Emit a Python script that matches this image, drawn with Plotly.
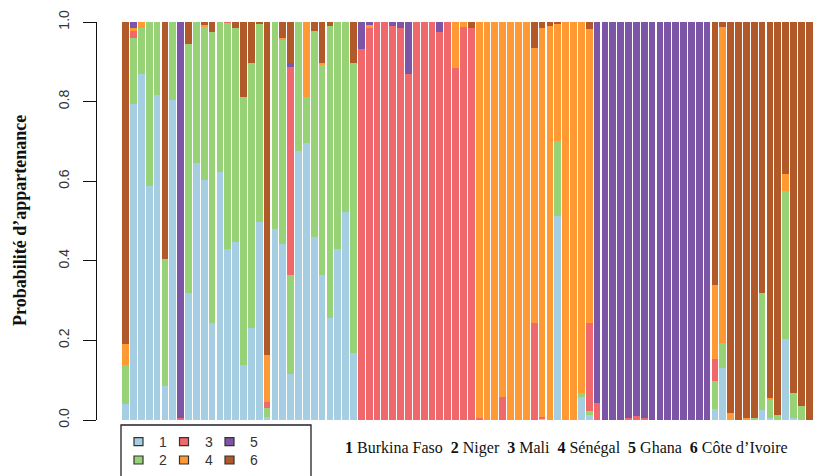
import plotly.graph_objects as go

# Individuals (bars), left to right
individus = list(range(1, 90))

# Membership probabilities per cluster (bottom to top in each bar)
q1 = [0.039, 0.793, 0.869, 0.588, 0.817, 0.085, 0.804, 0, 0.32, 0.645,
      0.603, 0.243, 0.622, 0.429, 0.448, 0.138, 0.23, 0.498, 0.008, 0.479,
      0.441, 0.115, 0.676, 0.695, 0.461, 0.364, 0.256, 0.429, 0.523, 0.168,
      0, 0, 0, 0, 0, 0, 0, 0, 0, 0,
      0, 0, 0, 0, 0, 0, 0, 0, 0, 0,
      0, 0, 0, 0.004, 0, 0.513, 0, 0, 0.059, 0.013,
      0, 0, 0, 0, 0, 0, 0, 0, 0, 0,
      0, 0, 0, 0, 0, 0.028, 0.13, 0, 0, 0,
      0, 0.025, 0.004, 0, 0.203, 0.004, 0, 0, 0.039]
q2 = [0.099, 0.166, 0.117, 0.412, 0.183, 0.319, 0.196, 0, 0.624, 0.355,
      0.385, 0.733, 0.378, 0.569, 0.538, 0.674, 0.666, 0.497, 0.023, 0.521,
      0.515, 0.249, 0.324, 0.117, 0.517, 0.528, 0.735, 0.571, 0.477, 0.728,
      0, 0, 0, 0, 0, 0, 0, 0, 0, 0,
      0, 0, 0, 0, 0, 0, 0, 0, 0, 0,
      0, 0, 0, 0, 0, 0.188, 0, 0, 0.01, 0.01,
      0, 0, 0, 0, 0, 0, 0, 0, 0, 0,
      0, 0, 0, 0, 0, 0.071, 0.064, 0, 0, 0,
      0.006, 0.295, 0.048, 0.013, 0.373, 0.065, 0.035, 0, 0.277]
q3 = [0, 0.019, 0, 0, 0, 0, 0, 0.005, 0, 0,
      0, 0, 0, 0.002, 0, 0, 0, 0, 0.013, 0,
      0, 0.524, 0, 0, 0, 0, 0, 0, 0, 0,
      0.931, 0.985, 1, 1, 0.99, 0.986, 0.869, 1, 1, 1,
      0.976, 1, 0.885, 0.988, 0.986, 0.005, 0, 0, 0.059, 0,
      0, 0, 0.243, 0.004, 0, 0, 0, 0, 0, 0.22,
      0.042, 0, 0, 0, 0.004, 0.01, 0.005, 0, 0, 0,
      0, 0, 0, 0, 0, 0.054, 0, 0, 0, 0,
      0, 0, 0, 0, 0, 0, 0, 0, 0]
q4 = [0.052, 0.006, 0.014, 0, 0, 0, 0, 0, 0, 0,
      0.005, 0, 0, 0, 0, 0, 0, 0, 0.119, 0,
      0.004, 0, 0, 0.188, 0, 0.004, 0, 0, 0, 0,
      0, 0.008, 0, 0, 0, 0, 0, 0, 0, 0,
      0, 0, 0.115, 0.012, 0, 0.995, 1, 1, 0.941, 1,
      1, 1, 0.691, 0.977, 0.99, 0.294, 1, 1, 0.931, 0.739,
      0, 0, 0, 0, 0, 0, 0, 0, 0, 0,
      0, 0, 0, 0, 0, 0.185, 0.793, 0.017, 0, 0.006,
      0, 0, 0.004, 0, 0.042, 0, 0, 0, 0]
q5 = [0, 0.016, 0, 0, 0, 0, 0, 0.995, 0, 0,
      0, 0, 0, 0, 0, 0, 0, 0, 0, 0,
      0, 0.008, 0, 0, 0, 0, 0, 0, 0, 0,
      0.069, 0.007, 0, 0, 0.01, 0.014, 0.131, 0, 0, 0,
      0.024, 0, 0, 0, 0, 0, 0, 0, 0, 0,
      0, 0, 0, 0, 0, 0, 0, 0, 0, 0,
      0.958, 1, 1, 1, 0.996, 0.99, 0.995, 1, 1, 1,
      1, 1, 1, 1, 1, 0, 0, 0, 0, 0,
      0, 0, 0, 0, 0, 0, 0, 0, 0]
q6 = [0.81, 0, 0, 0, 0, 0.596, 0, 0, 0.056, 0,
      0.007, 0.024, 0, 0, 0.014, 0.188, 0.104, 0.005, 0.837, 0,
      0.04, 0.104, 0, 0, 0.022, 0.104, 0.009, 0, 0, 0.104,
      0, 0, 0, 0, 0, 0, 0, 0, 0, 0,
      0, 0, 0, 0, 0.014, 0, 0, 0, 0, 0,
      0, 0, 0.066, 0.015, 0.01, 0.005, 0, 0, 0, 0.018,
      0, 0, 0, 0, 0, 0, 0, 0, 0, 0,
      0, 0, 0, 0, 0, 0.662, 0.013, 0.983, 1, 0.994,
      0.994, 0.68, 0.944, 0.987, 0.382, 0.931, 0.965, 1, 0.684]

clusters = ["1", "2", "3", "4", "5", "6"]
colors = ["#A6CEE3", "#98D277", "#F0686C", "#FF9933", "#7D55A6", "#B15928"]
pays = ["Burkina Faso", "Niger", "Mali", "Sénégal", "Ghana", "Côte d’Ivoire"]
yticks = [0, 0.2, 0.4, 0.6, 0.8, 1.0]
yticklabels = ["0.0", "0.2", "0.4", "0.6", "0.8", "1.0"]

# page body has an 8px margin; the figure is sized to fill the rest of the window
OFF = 8
W, H = 821 - OFF, 476 - OFF
ML, MR, MT, MB = 96 - OFF, 0, 22 - OFF, 56
PW, PH = W - ML - MR, H - MT - MB


def px_x(p):
    # p: screen pixel x
    return (p - OFF - ML) / PW


def px_y(p):
    # p: screen pixel y
    return (H - MB - (p - OFF)) / PH


fig = go.Figure()
for name, col, vals in zip(clusters, colors, [q1, q2, q3, q4, q5, q6]):
    fig.add_trace(go.Bar(x=individus, y=vals, name=name,
                         marker=dict(color=col, line=dict(width=0)),
                         showlegend=False, hoverinfo="skip"))

shapes = []
annotations = []

# legend box (cut at bottom of the image)
shapes.append(dict(type="rect", xref="paper", yref="paper",
                   x0=px_x(121), x1=px_x(311), y0=px_y(425), y1=px_y(500),
                   line=dict(color="#222", width=1.3), fillcolor="rgba(0,0,0,0)"))
sq_cx = [138.5, 184, 229.5]
lb_cx = [163, 208.5, 254]
row_cy = [441.7, 460]
for k, (name, col) in enumerate(zip(clusters, colors)):
    c, r = k // 2, k % 2
    cx, cy = sq_cx[c], row_cy[r]
    shapes.append(dict(type="rect", xref="paper", yref="paper",
                       x0=px_x(cx - 4.5), x1=px_x(cx + 4.5),
                       y0=px_y(cy + 4), y1=px_y(cy - 4),
                       line=dict(color="#333", width=1.2), fillcolor=col))
    annotations.append(dict(text=name, xref="paper", yref="paper",
                            x=px_x(lb_cx[c]), y=px_y(cy), xanchor="center",
                            yanchor="middle", showarrow=False,
                            font=dict(family="Liberation Sans", size=14, color="#333")))

gap = "\u00a0\u00a0"
country_text = gap.join(f"<b>{n}</b> {p}" for n, p in zip(clusters, pays))
annotations.append(dict(text=country_text, xref="paper", yref="paper",
                        x=px_x(566.5), y=px_y(448), xanchor="center", yanchor="middle",
                        showarrow=False,
                        font=dict(family="Liberation Serif", size=16, color="#111")))

annotations.append(dict(text="<b>Probabilité d’appartenance</b>", xref="paper", yref="paper",
                        x=px_x(20), y=0.5, xanchor="center", yanchor="middle",
                        textangle=-90, showarrow=False,
                        font=dict(family="Liberation Serif", size=18, color="#111")))

fig.update_layout(
    width=W, height=H,
    margin=dict(l=ML, r=MR, t=MT, b=MB, pad=0),
    barmode="stack", bargap=0.13,
    paper_bgcolor="white", plot_bgcolor="white",
    xaxis=dict(domain=[px_x(121.7), 1], range=[0.5, 89.5], visible=False),
    yaxis=dict(range=[0, 1], anchor="free", position=0,
               showline=True, linecolor="#111", linewidth=1,
               ticks="outside", ticklen=13, tickwidth=1, tickcolor="#111",
               tickvals=yticks, ticktext=yticklabels, tickangle=-90,
               ticklabelstandoff=8,
               tickfont=dict(family="Liberation Sans", size=14, color="#333"),
               showgrid=False, zeroline=False),
    shapes=shapes, annotations=annotations,
)

fig.write_html("out.html")
